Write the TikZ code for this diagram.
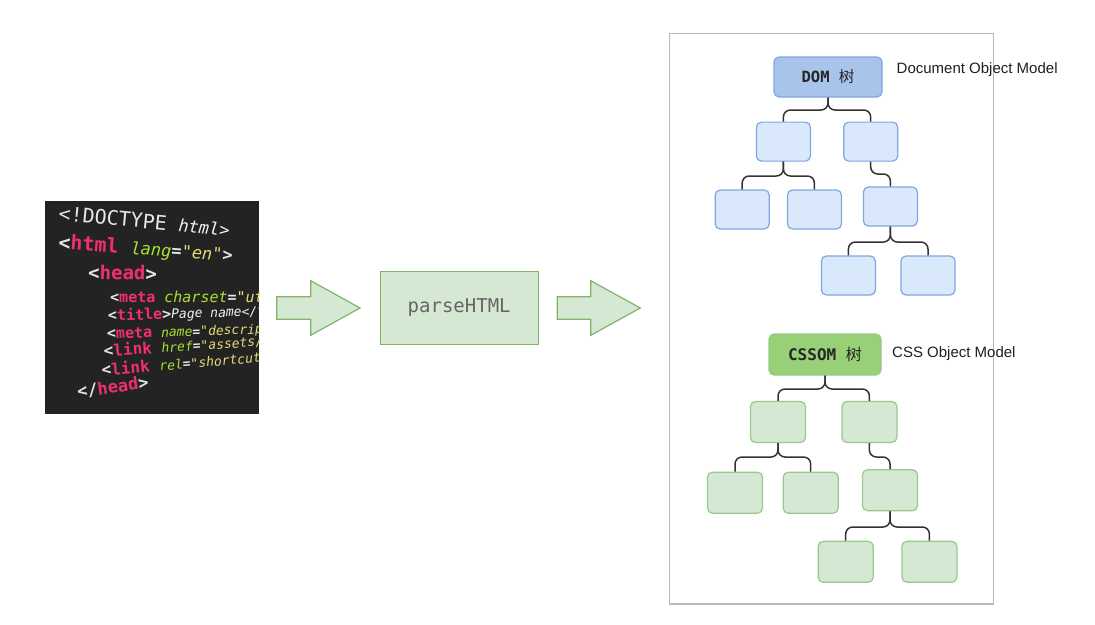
\documentclass[tikz,border=0pt]{standalone}
\usepackage{fontspec}
\setmainfont{Liberation Sans}
\newfontfamily\codefont{DejaVu Sans Mono}
\newfontfamily\cjk{Noto Sans CJK SC}
\usetikzlibrary{calc}
\definecolor{codebg}{HTML}{232323}
\definecolor{cbr}{HTML}{E6E6E6}
\definecolor{ctg}{HTML}{F0306E}
\definecolor{cat}{HTML}{A6E22E}
\definecolor{cstr}{HTML}{E6DB74}
\definecolor{ctx}{HTML}{F2F2F2}
\definecolor{gfill}{HTML}{D5E8D4}
\definecolor{gline}{HTML}{82B366}
\definecolor{gline2}{HTML}{97C98A}
\definecolor{groot}{HTML}{97D077}
\definecolor{bfill}{HTML}{DAE8FC}
\definecolor{broot}{HTML}{A9C4EB}
\definecolor{bline}{HTML}{7EA6E0}
\definecolor{frame}{HTML}{B8B8B8}
\definecolor{conncol}{HTML}{333333}
\definecolor{ptext}{HTML}{666666}
\newcommand\fs[1]{\fontsize{#1}{#1}\selectfont}
\newcommand\mybr[1]{{\color{cbr}\bfseries #1}}
\newcommand\mytg[1]{{\color{ctg}\bfseries #1}}
\newcommand\myat[1]{{\color{cat}\itshape #1}}
\newcommand\mystr[1]{{\color{cstr}\itshape #1}}
\newcommand\mytx[1]{{\color{ctx}\itshape #1}}
\tikzset{
  codeline/.style={anchor=base west, inner sep=0pt, font=\codefont},
  blockarrow/.style={fill=gfill, draw=gline, line width=1.2pt, line join=miter},
  pbox/.style={draw=gline, fill=gfill, line width=1.2pt, minimum width=158pt, minimum height=73pt, font=\codefont\fs{19}, text=ptext},
  container/.style={draw=frame, line width=1.2pt},
  domroot/.style={draw=bline, fill=broot, line width=1.2pt, rounded corners=5pt, minimum width=108pt, minimum height=40pt, font=\codefont\bfseries\fs{15.5}, text=black!85},
  domkid/.style={draw=bline, fill=bfill, line width=1.2pt, rounded corners=5pt, minimum width=54pt, minimum height=39pt},
  cssroot/.style={draw=gline2, fill=groot, line width=1.2pt, rounded corners=5pt, minimum width=112pt, minimum height=41pt, font=\codefont\bfseries\fs{16}, text=black!85},
  csskid/.style={draw=gline2, fill=gfill, line width=1.2pt, rounded corners=5pt, minimum width=55pt, minimum height=41pt},
  conn/.style={draw=conncol, line width=1.5pt, rounded corners=7pt},
  lbl/.style={anchor=west, inner sep=0pt, font=\fs{15}, text=black!88}
}
\begin{document}
\begin{tikzpicture}[x=1pt,y=-1pt]
\useasboundingbox (0,0) rectangle (1095,624);

% code image
\fill[codebg] (45,201) rectangle (259,414);
\begin{scope}
\clip (45,201) rectangle (259,414);
\node[codeline, rotate=-5.5] (l1) at (58,220) {\fs{20}{\color{cbr}<!DOCTYPE} \fs{17}\mytx{html>}};
\node[codeline, rotate=-4] (l2) at (58,249) {\fs{20}\mybr{<}\mytg{html} \fs{17}\myat{lang}\mybr{=}\mystr{"en"}\mybr{>}};
\node[codeline, rotate=-1] (l3) at (88,279) {\fs{19}\mybr{<}\mytg{head}\mybr{>}};
\node[codeline, rotate=0] (l4) at (110,302) {\fs{15}\mybr{<}\mytg{meta} \myat{charset}\mybr{=}\mystr{"utf-8"}\mybr{>}};
\node[codeline, rotate=2] (l5) at (108,321) {\fs{15}\mybr{<}\mytg{title}\mybr{>}\fs{13}\mytx{Page name</title>}};
\node[codeline, rotate=2] (l6) at (107,339) {\fs{15}\mybr{<}\mytg{meta} \fs{13}\myat{name}\mybr{=}\mystr{"description"}};
\node[codeline, rotate=4] (l7) at (104,357) {\fs{16}\mybr{<}\mytg{link} \fs{13}\myat{href}\mybr{=}\mystr{"assets/favicon.ico"}};
\node[codeline, rotate=5] (l8) at (102,376) {\fs{16}\mybr{<}\mytg{link} \fs{13}\myat{rel}\mybr{=}\mystr{"shortcut icon"}};
\node[codeline, rotate=8] (l9) at (78,398) {\fs{17}\mybr{</}\mytg{head}\mybr{>}};
\end{scope}

% block arrows
\draw[blockarrow] (276.7,296.7) -- (310.7,296.7) -- (310.7,280.7) -- (360,308) -- (310.7,335.3) -- (310.7,319.3) -- (276.7,319.3) -- cycle;
\node[pbox] (parse) at (459.2,307.7) {parseHTML};
\draw[blockarrow] (557.3,296.7) -- (590.7,296.7) -- (590.7,280.7) -- (640.3,308) -- (590.7,335.3) -- (590.7,319.3) -- (557.3,319.3) -- cycle;

% container
\draw[container] (669.3,33.5) rectangle (993.7,604);

% DOM tree
\node[domroot] (dom) at (828,77) {DOM {\cjk\mdseries 树}};
\node[domkid] (d1a) at (783.4,141.6) {};
\node[domkid] (d1b) at (870.7,141.6) {};
\node[domkid] (d2a) at (742.2,209.5) {};
\node[domkid] (d2b) at (814.4,209.5) {};
\node[domkid] (d2c) at (890.4,206.5) {};
\node[domkid] (d3a) at (848.4,275.5) {};
\node[domkid] (d3b) at (928,275.5) {};
\node[lbl] (domlbl) at (896.5,69.5) {Document Object Model};

\draw[conn] (dom.south) -- (dom.south |- 0,110) -| (d1a.north);
\draw[conn] (dom.south) -- (dom.south |- 0,110) -| (d1b.north);
\draw[conn] (d1a.south) -- (d1a.south |- 0,176) -| (d2a.north);
\draw[conn] (d1a.south) -- (d1a.south |- 0,176) -| (d2b.north);
\draw[conn] (d1b.south) -- (d1b.south |- 0,174) -| (d2c.north);
\draw[conn] (d2c.south) -- (d2c.south |- 0,242) -| (d3a.north);
\draw[conn] (d2c.south) -- (d2c.south |- 0,242) -| (d3b.north);

% CSSOM tree
\node[cssroot] (css) at (825,354.5) {CSSOM {\cjk\mdseries 树}};
\node[csskid] (c1a) at (778,422) {};
\node[csskid] (c1b) at (869.4,422) {};
\node[csskid] (c2a) at (735,492.7) {};
\node[csskid] (c2b) at (810.7,492.7) {};
\node[csskid] (c2c) at (890,490.2) {};
\node[csskid] (c3a) at (845.7,561.8) {};
\node[csskid] (c3b) at (929.4,561.8) {};
\node[lbl] (csslbl) at (892,353.3) {CSS Object Model};

\draw[conn] (css.south) -- (css.south |- 0,389) -| (c1a.north);
\draw[conn] (css.south) -- (css.south |- 0,389) -| (c1b.north);
\draw[conn] (c1a.south) -- (c1a.south |- 0,457) -| (c2a.north);
\draw[conn] (c1a.south) -- (c1a.south |- 0,457) -| (c2b.north);
\draw[conn] (c1b.south) -- (c1b.south |- 0,457) -| (c2c.north);
\draw[conn] (c2c.south) -- (c2c.south |- 0,527) -| (c3a.north);
\draw[conn] (c2c.south) -- (c2c.south |- 0,527) -| (c3b.north);
\end{tikzpicture}
\end{document}
